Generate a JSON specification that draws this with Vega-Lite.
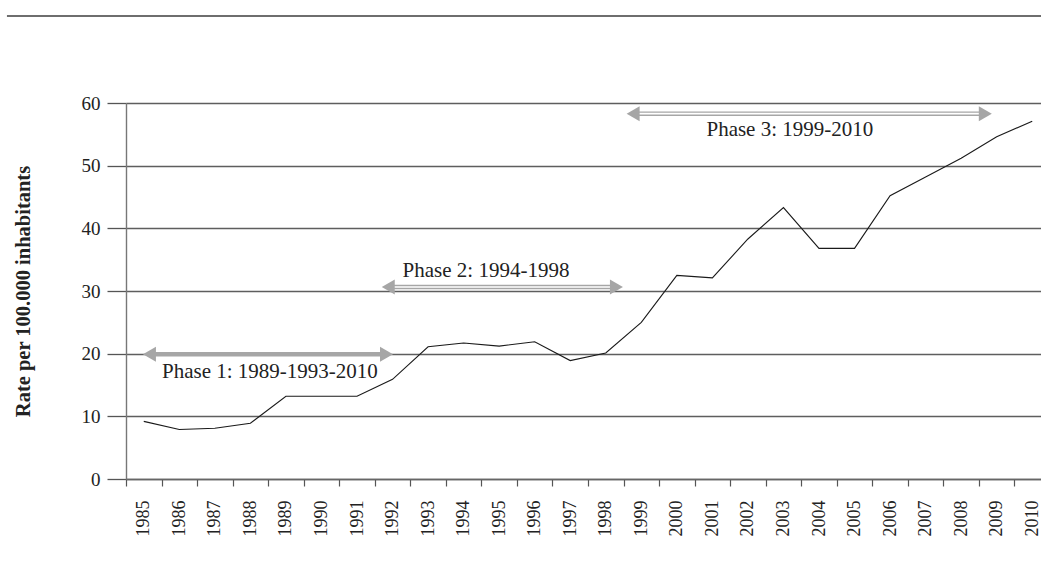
{
  "$schema": "https://vega.github.io/schema/vega-lite/v6.json",
  "width": 915,
  "height": 376,
  "autosize": {"type": "none"},
  "padding": {"left": 126, "top": 103, "right": 0, "bottom": 99},
  "background": "white",
  "config": {
    "view": {"stroke": null},
    "font": "Liberation Serif"
  },
  "datasets": {
    "rates": [
      {"year": "1985", "rate": 9.2},
      {"year": "1986", "rate": 7.9},
      {"year": "1987", "rate": 8.1},
      {"year": "1988", "rate": 8.9},
      {"year": "1989", "rate": 13.2},
      {"year": "1990", "rate": 13.2},
      {"year": "1991", "rate": 13.2},
      {"year": "1992", "rate": 15.9},
      {"year": "1993", "rate": 21.1},
      {"year": "1994", "rate": 21.7},
      {"year": "1995", "rate": 21.2},
      {"year": "1996", "rate": 21.9},
      {"year": "1997", "rate": 18.9},
      {"year": "1998", "rate": 20.1},
      {"year": "1999", "rate": 25.0},
      {"year": "2000", "rate": 32.5},
      {"year": "2001", "rate": 32.1},
      {"year": "2002", "rate": 38.3},
      {"year": "2003", "rate": 43.3},
      {"year": "2004", "rate": 36.8},
      {"year": "2005", "rate": 36.8},
      {"year": "2006", "rate": 45.2},
      {"year": "2007", "rate": 48.2},
      {"year": "2008", "rate": 51.2},
      {"year": "2009", "rate": 54.6},
      {"year": "2010", "rate": 57.1}
    ],
    "phases": [
      {"phase": 1, "label": "Phase 1: 1989-1993-2010", "start": 1985.16, "end": 1991.83, "y": 19.9, "labelX": 1988.55, "labelY": 16.07},
      {"phase": 2, "label": "Phase 2: 1994-1998", "start": 1991.88, "end": 1998.3, "y": 30.65, "labelX": 1994.63, "labelY": 32.3},
      {"phase": 3, "label": "Phase 3: 1999-2010", "start": 1998.77, "end": 2008.68, "y": 58.3, "labelX": 2003.18, "labelY": 54.78}
    ],
    "topline": [
      {"from": 1981.15, "to": 2011.5, "level": 73.9}
    ]
  },
  "layer": [
    {
      "data": {"name": "rates"},
      "mark": {"type": "line", "color": "#1a1a1a", "strokeWidth": 1.1},
      "encoding": {
        "x": {
          "field": "year",
          "type": "ordinal",
          "bandPosition": 0.5,
          "scale": {"type": "band", "paddingInner": 0, "paddingOuter": 0, "range": [0, 924]},
          "axis": {
            "title": null,
            "tickBand": "extent",
            "labelAngle": -90,
            "labelFontSize": 18,
            "labelColor": "#222",
            "labelPadding": 14,
            "tickSize": 7,
            "tickColor": "#555",
            "tickWidth": 1.2,
            "domainColor": "#666",
            "domainWidth": 1.4,
            "grid": false
          }
        },
        "y": {
          "field": "rate",
          "type": "quantitative",
          "scale": {"domain": [0, 60], "nice": false},
          "axis": {
            "title": "Rate per 100.000 inhabitants",
            "titleFontSize": 20.5,
            "titleFontWeight": "bold",
            "titleColor": "#222",
            "titlePadding": 48,
            "values": [0, 10, 20, 30, 40, 50, 60],
            "labelFontSize": 19,
            "labelColor": "#222",
            "labelPadding": 7,
            "tickSize": 19,
            "tickColor": "#555",
            "tickWidth": 1.3,
            "domainColor": "#777",
            "domainWidth": 1.4,
            "grid": true,
            "gridColor": "#5e5e5e",
            "gridWidth": 1.4
          }
        }
      }
    },
    {
      "layer": [
        {
          "data": {"name": "topline"},
          "mark": {"type": "rule", "color": "#6e6e6e", "strokeWidth": 2},
          "encoding": {
            "x": {"field": "from", "type": "quantitative", "scale": {"domain": [1984.5, 2010.5], "range": [0, 924], "nice": false, "zero": false}, "axis": null},
            "x2": {"field": "to"},
            "y": {"field": "level", "type": "quantitative", "scale": {"domain": [0, 60], "nice": false}}
          }
        },
        {
          "data": {"name": "phases"},
          "transform": [{"filter": "datum.phase == 1"}],
          "mark": {"type": "rule", "color": "#a6a6a6", "strokeWidth": 4.5},
          "encoding": {
            "x": {"field": "start", "type": "quantitative", "scale": {"domain": [1984.5, 2010.5], "range": [0, 924], "nice": false, "zero": false}, "axis": null},
            "x2": {"field": "end"},
            "y": {"field": "y", "type": "quantitative", "scale": {"domain": [0, 60], "nice": false}}
          }
        },
        {
          "data": {"name": "phases"},
          "transform": [{"filter": "datum.phase != 1"}],
          "mark": {"type": "rule", "color": "#a6a6a6", "strokeWidth": 4.5},
          "encoding": {
            "x": {"field": "start", "type": "quantitative", "scale": {"domain": [1984.5, 2010.5], "range": [0, 924], "nice": false, "zero": false}, "axis": null},
            "x2": {"field": "end"},
            "y": {"field": "y", "type": "quantitative", "scale": {"domain": [0, 60], "nice": false}}
          }
        },
        {
          "data": {"name": "phases"},
          "transform": [{"filter": "datum.phase != 1"}],
          "mark": {"type": "rule", "color": "#ffffff", "strokeWidth": 1.6},
          "encoding": {
            "x": {"field": "start", "type": "quantitative", "scale": {"domain": [1984.5, 2010.5], "range": [0, 924], "nice": false, "zero": false}, "axis": null},
            "x2": {"field": "end"},
            "y": {"field": "y", "type": "quantitative", "scale": {"domain": [0, 60], "nice": false}}
          }
        },
        {
          "data": {"name": "phases"},
          "mark": {"type": "point", "shape": "triangle-left", "filled": true, "size": 225, "color": "#a6a6a6", "opacity": 1},
          "encoding": {
            "x": {"field": "start", "type": "quantitative", "scale": {"domain": [1984.5, 2010.5], "range": [0, 924], "nice": false, "zero": false}, "axis": null},
            "y": {"field": "y", "type": "quantitative", "scale": {"domain": [0, 60], "nice": false}}
          }
        },
        {
          "data": {"name": "phases"},
          "mark": {"type": "point", "shape": "triangle-right", "filled": true, "size": 225, "color": "#a6a6a6", "opacity": 1},
          "encoding": {
            "x": {"field": "end", "type": "quantitative", "scale": {"domain": [1984.5, 2010.5], "range": [0, 924], "nice": false, "zero": false}, "axis": null},
            "y": {"field": "y", "type": "quantitative", "scale": {"domain": [0, 60], "nice": false}}
          }
        },
        {
          "data": {"name": "phases"},
          "mark": {"type": "text", "fontSize": 21, "color": "#222", "align": "center", "baseline": "alphabetic"},
          "encoding": {
            "x": {"field": "labelX", "type": "quantitative", "scale": {"domain": [1984.5, 2010.5], "range": [0, 924], "nice": false, "zero": false}, "axis": null},
            "y": {"field": "labelY", "type": "quantitative", "scale": {"domain": [0, 60], "nice": false}},
            "text": {"field": "label"}
          }
        }
      ]
    }
  ],
  "resolve": {"scale": {"x": "independent"}, "axis": {"x": "independent"}}
}
